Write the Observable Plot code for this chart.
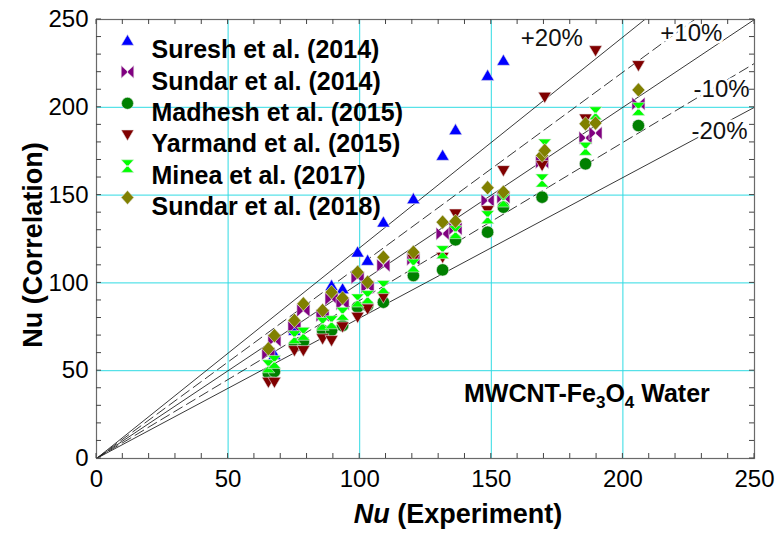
<!DOCTYPE html>
<html><head><meta charset="utf-8">
<script src="https://cdn.jsdelivr.net/npm/d3@7"></script>
<script src="https://cdn.jsdelivr.net/npm/@observablehq/plot@0.6"></script>
<style>
body{margin:0;background:#fff;}
#chart{width:784px;height:533px;}
svg{font-family:"Liberation Sans",Arial,sans-serif;}
</style></head><body><div id="chart"></div>
<script>
// Experimental Nu (shared x values)
const xExp = [65.3, 67.6, 75.2, 78.6, 85.9, 89.3, 93.5, 99.2, 103.0, 109.0, 120.4, 131.5, 136.4, 148.6, 154.6, 169.3, 170.3, 185.8, 189.6, 205.9];
const seriesNames = ["Suresh et al. (2014)", "Sundar et al. (2014)", "Madhesh et al. (2015)", "Yarmand et al. (2015)", "Minea et al. (2017)", "Sundar et al. (2018)"];
const suresh2014 = [null, 59.2, 72.9, null, null, 98.5, 96.6, 117.5, 112.8, 134.6, 147.9, 172.6, 187.2, 218.1, 226.7, null, null, null, null, null];
const sundar2014 = [59.6, 67.2, 74.8, 84.3, 81.4, 90.9, 88.1, 102.9, 97.6, 109.9, 113.5, 128.0, 130.8, 146.9, 148.8, 168.7, null, 182.6, 185.3, 202.0];
const madhesh2015 = [48.5, 49.5, 64.5, 66.5, 72.9, 72.9, 75.7, 86.2, 87.1, 89.0, 104.2, 107.4, 124.5, 128.9, 143.1, 148.8, null, 167.8, null, 189.6];
const yarmand2015 = [43.5, 43.5, 61.5, 61.5, 68.2, 67.2, 75.0, 80.5, 85.2, 91.9, 113.5, 114.6, 139.3, 141.2, 164.0, 166.9, 205.8, 193.4, 232.3, 223.8];
const minea2017 = [52.5, 55.0, 69.1, 71.0, 76.7, 77.6, 82.4, 90.0, 91.9, 97.6, 109.9, 117.5, 128.9, 137.4, 146.9, 158.3, 178.2, 176.4, 196.6, 199.1];
const sundar2018 = [62.5, 70.0, 78.6, 88.1, 84.3, 94.7, 91.4, 106.1, 100.4, 114.6, 117.5, 134.6, 135.1, 154.2, 151.7, 172.6, 175.4, 190.6, 191.0, 209.9];
const deviations = [0.2, 0.1, 0, -0.1, -0.2];
const devLabels = ["+20%", "+10%", "", "-10%", "-20%"];
const axisTicks = [0, 50, 100, 150, 200, 250];
const gridTicks = [50, 100, 150, 200];
const minorTicks = d3.range(0, 251, 10);

// custom symbols
const sz = s => Math.sqrt(s / Math.PI);
const triUp = {draw(c, size){const s=sz(size); c.moveTo(0,-s*0.95); c.lineTo(s,s*0.75); c.lineTo(-s,s*0.75); c.closePath();}};
const triDown = {draw(c, size){const s=sz(size); c.moveTo(0,s*0.95); c.lineTo(s,-s*0.75); c.lineTo(-s,-s*0.75); c.closePath();}};
const diamond = {draw(c, size){const s=sz(size); c.moveTo(0,-s*1.1); c.lineTo(s,0); c.lineTo(0,s*1.1); c.lineTo(-s,0); c.closePath();}};
const bowtie = {draw(c, size){const s=sz(size); c.moveTo(-s,-s); c.lineTo(0.1*s,0); c.lineTo(-s,s); c.closePath(); c.moveTo(s,-s); c.lineTo(-0.1*s,0); c.lineTo(s,s); c.closePath();}};
const hourglass = {draw(c, size){const s=sz(size); c.moveTo(-s,-s); c.lineTo(s,-s); c.lineTo(0,0.1*s); c.closePath(); c.moveTo(-s,s); c.lineTo(s,s); c.lineTo(0,-0.1*s); c.closePath();}};
const circle = {draw(c, size){const s=sz(size)*0.95; c.moveTo(s,0); c.arc(0,0,s,0,2*Math.PI);}};

const seriesValues = [suresh2014, sundar2014, madhesh2015, yarmand2015, minea2017, sundar2018];
const seriesColors = ["#0000ff", "#800080", "#008000", "#800000", "#00ff00", "#808000"];
const seriesSymbols = [triUp, bowtie, circle, triDown, hourglass, diamond];

const pts = seriesValues.map((vals, i) => vals.map((v, j) => ({x: xExp[j], y: v, s: seriesNames[i]})).filter(d => d.y != null));

// reference lines y = (1+d) x, clipped to domain
const refLines = deviations.map(d => {
  const k = 1 + d;
  const xe = Math.min(250, 250 / k);
  return {d, pts: [{x: 0, y: 0}, {x: xe, y: k * xe}]};
});
const annot = [
  {t: devLabels[0], x: 173, y: 239.5},
  {t: devLabels[1], x: 226, y: 242},
  {t: devLabels[3], x: 237.5, y: 210},
  {t: devLabels[4], x: 236.7, y: 186.3}
];

const W = 784, H = 533, mL = 96, mR = 30, mT = 19, mB = 75;
const tickLen = 5;
const font = "Liberation Sans, Arial, sans-serif";
const marks = [
  Plot.gridX(gridTicks, {stroke: "#2fdbe3", strokeOpacity: 1, strokeWidth: 1}),
  Plot.gridY(gridTicks, {stroke: "#2fdbe3", strokeOpacity: 1, strokeWidth: 1}),
  ...refLines.map(r => Plot.line(r.pts, {x: "x", y: "y", stroke: "#222", strokeWidth: 0.9, strokeDasharray: Math.abs(r.d) === 0.1 ? "10,5" : null})),
  Plot.text(annot, {x: "x", y: "y", text: "t", fontSize: 24, fill: "#111", stroke: "white", strokeWidth: 5, paintOrder: "stroke", fontFamily: font}),
];
pts.forEach((p, i) => {
  marks.push(Plot.dot(p, {x: "x", y: "y", symbol: seriesSymbols[i], r: 6.5, fill: seriesColors[i], stroke: "#e8e8e8", strokeWidth: 0.6}));
});
// legend
seriesNames.forEach((name, i) => {
  const dy = 21 + i * 31.4;
  marks.push(Plot.dot([name], {frameAnchor: "top-left", dx: 31, dy, symbol: seriesSymbols[i], r: 6.3, fill: seriesColors[i], stroke: "#e8e8e8", strokeWidth: 0.6}));
  marks.push(Plot.text([name], {frameAnchor: "top-left", dx: 55, dy, text: d => d, textAnchor: "start", fontSize: 25, fontWeight: "bold", fill: "#000", fontFamily: font}));
});
marks.push(
  Plot.frame({stroke: "#6a6a6a", strokeWidth: 1.2}),
  Plot.axisX({anchor: "bottom", ticks: axisTicks, tickSize: 0, tickPadding: 11, fontSize: 24, fill: "#000", label: null, fontFamily: font}),
  Plot.axisY({anchor: "left", ticks: axisTicks, tickSize: 0, tickPadding: 8, fontSize: 24, fill: "#000", label: null, fontFamily: font})
);

const svg = Plot.plot({
  width: W, height: H,
  marginLeft: mL, marginRight: mR, marginTop: mT, marginBottom: mB,
  x: {domain: [0, 250], axis: null},
  y: {domain: [0, 250], axis: null},
  style: {fontFamily: font, background: "white", overflow: "visible"},
  marks
});
const sel = d3.select(svg);
// inward minor ticks on all four sides, positioned with the plot's own scales
const xs = svg.scale("x"), ys = svg.scale("y");
const tg = sel.append("g").attr("stroke", "#444").attr("stroke-width", 1);
minorTicks.forEach(t => {
  const px = xs.apply(t), py = ys.apply(t);
  tg.append("line").attr("x1", px).attr("x2", px).attr("y1", H - mB).attr("y2", H - mB - tickLen);
  tg.append("line").attr("x1", px).attr("x2", px).attr("y1", mT).attr("y2", mT + tickLen);
  tg.append("line").attr("y1", py).attr("y2", py).attr("x1", mL).attr("x2", mL + tickLen);
  tg.append("line").attr("y1", py).attr("y2", py).attr("x1", W - mR).attr("x2", W - mR - tickLen);
});
// x axis title with italic Nu
const xt = sel.append("text").attr("x", 458).attr("y", 523).attr("text-anchor", "middle")
  .attr("font-size", 27).attr("font-weight", "bold").attr("font-family", font).attr("fill", "#000");
xt.append("tspan").attr("font-style", "italic").text("Nu");
xt.append("tspan").text(" (Experiment)");
// y axis title
sel.append("text").attr("transform", "translate(42,245) rotate(-90)").attr("text-anchor", "middle")
  .attr("font-size", 27).attr("font-weight", "bold").attr("font-family", font).attr("fill", "#000")
  .text("Nu (Correlation)");
// fluid label
const ft = sel.append("text").attr("x", 464).attr("y", 402).attr("text-anchor", "start").attr("font-size", 25).attr("font-weight", "bold")
  .attr("font-family", font).attr("fill", "#000");
ft.append("tspan").text("MWCNT-Fe");
ft.append("tspan").attr("font-size", 17).attr("dy", 6).text("3");
ft.append("tspan").attr("dy", -6).text("O");
ft.append("tspan").attr("font-size", 17).attr("dy", 6).text("4");
ft.append("tspan").attr("dy", -6).text(" Water");
document.getElementById("chart").appendChild(svg);
</script>
</body></html>
